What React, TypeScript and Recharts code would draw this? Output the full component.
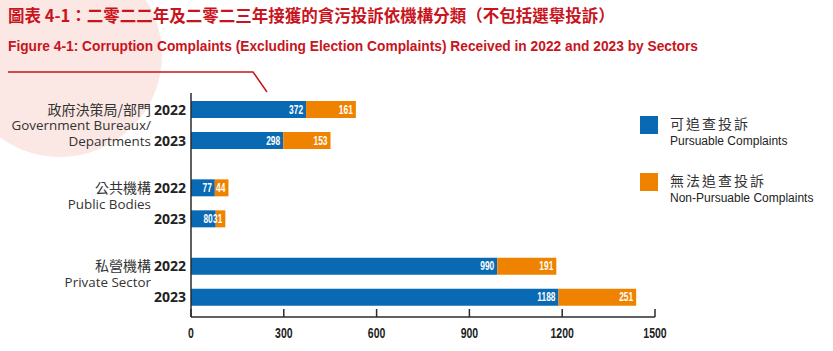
import { BarChart, Bar, XAxis, YAxis, Legend, LabelList } from 'recharts'

const sectors = ['gov', 'public', 'private']
const sectorZh = ['政府決策局/部門', '公共機構', '私營機構']
const sectorEn = [['Government Bureaux/', 'Departments'], ['Public Bodies'], ['Private Sector']]
const years = ['2022', '2023']

const pursuable2022 = [372, 77, 990]
const nonPursuable2022 = [161, 44, 191]
const pursuable2023 = [298, 80, 1188]
const nonPursuable2023 = [153, 31, 251]

const xTicks = [0, 300, 600, 900, 1200, 1500]

const legendZh = ['可追查投訴', '無法追查投訴']
const legendEn = ['Pursuable Complaints', 'Non-Pursuable Complaints']

const titleZh = '圖表 4-1：二零二二年及二零二三年接獲的貪污投訴依機構分類（不包括選舉投訴）'
const titleEn = 'Figure 4-1: Corruption Complaints (Excluding Election Complaints) Received in 2022 and 2023 by Sectors'

const BLUE = '#0a69b3'
const ORANGE = '#ef8300'
const RED = '#c8141d'
const AXIS = '#2b2b2b'
const NARROW = "'Liberation Sans', Arial, sans-serif"
const LABEL_FONT = "'Open Sans', 'Noto Sans', sans-serif"
const CJK = "'Noto Sans CJK TC', sans-serif"

const data = sectors.map((s, i) => ({
  sector: s,
  p22: pursuable2022[i],
  n22: nonPursuable2022[i],
  p23: pursuable2023[i],
  n23: nonPursuable2023[i],
}))

// squeezed bold digits, like the condensed face in the print version
const Narrow = ({ x, y, size, anchor, fill, children }: any) => (
  <text
    transform={`translate(${x},${y}) scale(0.7,1)`}
    textAnchor={anchor}
    fontFamily={NARROW}
    fontWeight="bold"
    fontSize={size}
    fill={fill}
  >
    {children}
  </text>
)

const XTick = ({ x, y, payload }: any) => (
  <g>
    <line x1={x} x2={x} y1={y - 8} y2={y} stroke={AXIS} strokeWidth={1.5} />
    <Narrow x={x} y={y + 21} size={15} anchor="middle" fill="#222">
      {payload.value}
    </Narrow>
  </g>
)

const YTick = ({ x, y, payload }: any) => {
  const i = sectors.indexOf(payload.value)
  return (
    <g>
      <text x={x - 40} y={y - 15.5} dy={5} textAnchor="end" fontFamily={CJK} fontSize={14} fill="#333">
        {sectorZh[i]}
      </text>
      {sectorEn[i].map((line, k) => (
        <text key={k} x={x - 40} y={y + k * 16} dy={5} textAnchor="end" fontFamily={LABEL_FONT} fontSize={13.4} fill="#333">
          {line}
        </text>
      ))}
      {years.map((yr, k) => (
        <text key={yr} x={x - 5} y={y + (k === 0 ? -15.5 : 15.5)} dy={5} textAnchor="end" fontFamily={LABEL_FONT} fontWeight="bold" fontSize={14} fill="#222">
          {yr}
        </text>
      ))}
    </g>
  )
}

const BarValue = ({ x, y, width, height, value }: any) => (
  <Narrow x={x + width - 3} y={y + height / 2 + 4} size={12} anchor="end" fill="#fff">
    {value}
  </Narrow>
)

const LegendBox = () => (
  <div>
    {[BLUE, ORANGE].map((c, i) => (
      <div key={i} style={{ display: 'flex', alignItems: 'flex-start', marginBottom: i === 0 ? 24 : 0 }}>
        <div style={{ width: 18, height: 18, background: c, marginTop: 1 }} />
        <div style={{ marginLeft: 12 }}>
          <div style={{ fontFamily: CJK, fontSize: 14, color: '#333', letterSpacing: 2, lineHeight: '16px' }}>{legendZh[i]}</div>
          <div style={{ fontFamily: "'Liberation Sans', Arial, sans-serif", fontSize: 12, color: '#222', marginTop: 3 }}>{legendEn[i]}</div>
        </div>
      </div>
    ))}
  </div>
)

export default function App() {
  return (
    <div style={{ position: 'absolute', left: 0, top: 0, width: 833, height: 351, background: '#fff', overflow: 'hidden' }}>
      <svg width={833} height={351} style={{ position: 'absolute', left: 0, top: 0 }}>
        <circle cx={60} cy={55} r={102} fill="#fbe8e4" />
        <text x={8} y={22} fontFamily={CJK} fontWeight="bold" fontSize={16.5} fill={RED}>
          {titleZh}
        </text>
        <text x={8} y={51} fontFamily={NARROW} fontWeight="bold" fontSize={15} fill={RED} textLength={690} lengthAdjust="spacingAndGlyphs">
          {titleEn}
        </text>
        <polyline points="8,72 253,72 267,92" fill="none" stroke={RED} strokeWidth={1.5} />
      </svg>
      <div style={{ position: 'absolute', left: 0, top: 0 }}>
        <BarChart
          width={833}
          height={351}
          data={data}
          layout="vertical"
          margin={{ top: 93, right: 178, bottom: 4, left: 0 }}
          barGap={14}
        >
          <XAxis
            type="number"
            domain={[0, 1500]}
            ticks={xTicks}
            allowDataOverflow
            height={30}
            tickSize={0}
            tickMargin={0}
            tickLine={false}
            axisLine={{ stroke: AXIS, strokeWidth: 1.5 }}
            tick={<XTick />}
          />
          <YAxis
            type="category"
            dataKey="sector"
            width={191}
            padding={{ top: -7, bottom: -4 }}
            tickSize={0}
            tickMargin={0}
            tickLine={false}
            axisLine={{ stroke: AXIS, strokeWidth: 1.5 }}
            tick={<YTick />}
          />
          <Legend
            layout="vertical"
            align="center"
            verticalAlign="middle"
            content={<LegendBox />}
            wrapperStyle={{ left: 640, top: 115, width: 200 }}
          />
          <Bar dataKey="p22" stackId="a" fill={BLUE} barSize={17} isAnimationActive={false}>
            <LabelList dataKey="p22" content={<BarValue />} />
          </Bar>
          <Bar dataKey="n22" stackId="a" fill={ORANGE} barSize={17} isAnimationActive={false}>
            <LabelList dataKey="n22" content={<BarValue />} />
          </Bar>
          <Bar dataKey="p23" stackId="b" fill={BLUE} barSize={17} isAnimationActive={false}>
            <LabelList dataKey="p23" content={<BarValue />} />
          </Bar>
          <Bar dataKey="n23" stackId="b" fill={ORANGE} barSize={17} isAnimationActive={false}>
            <LabelList dataKey="n23" content={<BarValue />} />
          </Bar>
        </BarChart>
      </div>
    </div>
  )
}
